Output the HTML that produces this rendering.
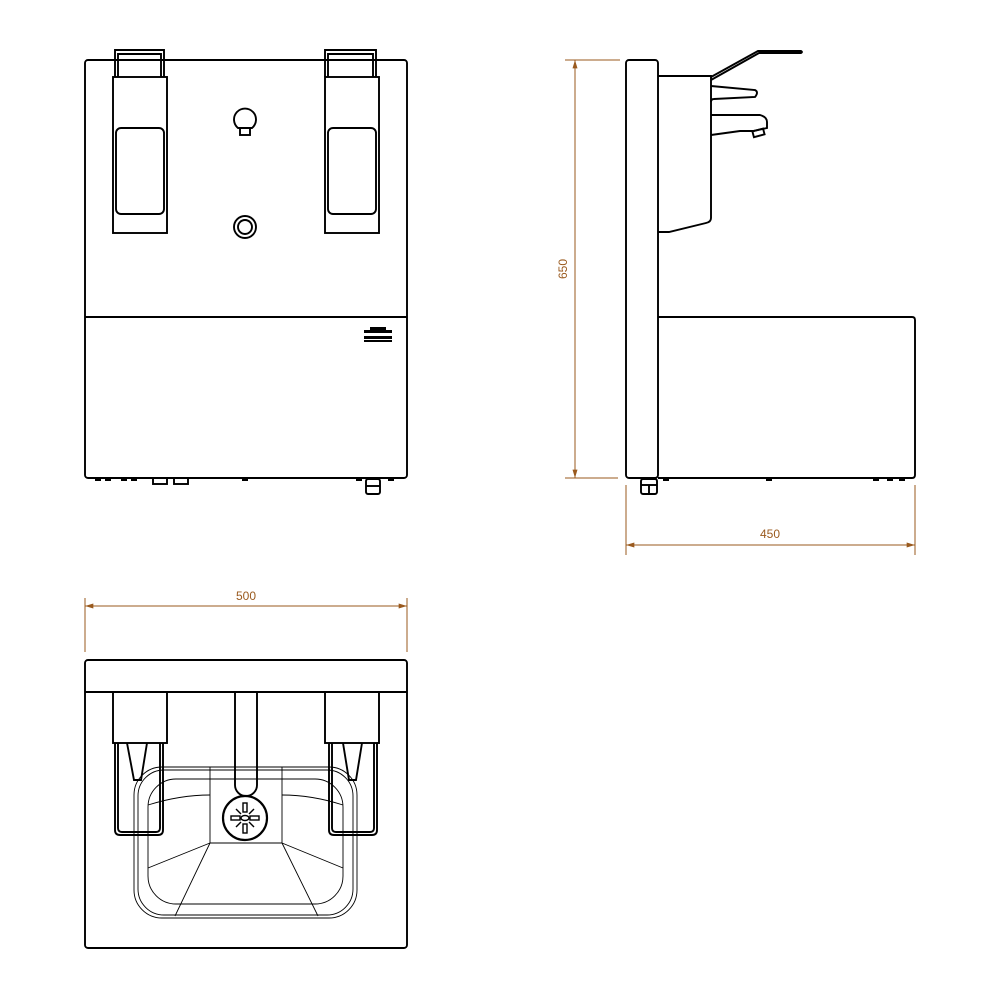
<!DOCTYPE html>
<html><head><style>html,body{margin:0;padding:0;background:#fff}svg{display:block}</style></head>
<body>
<svg width="1000" height="1000" viewBox="0 0 1000 1000" xmlns="http://www.w3.org/2000/svg" fill="none" stroke="#000" stroke-width="1.9">
<defs>
<marker id="a" viewBox="0 0 10 6" refX="10" refY="3" markerWidth="12" markerHeight="5" orient="auto-start-reverse" markerUnits="userSpaceOnUse"><path d="M0,0L10,3L0,6z" fill="#9a5a1e" stroke="none"/></marker>
</defs>
<!-- FRONT VIEW -->
<rect x="85" y="60" width="322" height="418" rx="3"/>
<line x1="85" y1="317" x2="407" y2="317"/>
<path d="M115,77 V50 H164 V77 M118,77 V54 H161 V77"/>
<rect x="113" y="77" width="54" height="156"/>
<rect x="116" y="128" width="48" height="86" rx="5"/>
<path d="M325,77 V50 H376 V77 M328,77 V54 H373 V77"/>
<rect x="325" y="77" width="54" height="156"/>
<rect x="328" y="128" width="48" height="86" rx="5"/>
<path d="M238,128 A11,11 0 1 1 252,128 Z"/>
<rect x="240" y="128" width="10" height="7"/>
<circle cx="245" cy="227" r="11"/><circle cx="245" cy="227" r="7"/>
<g fill="#000" stroke="none"><rect x="364" y="330" width="28" height="3"/><rect x="364" y="336" width="28" height="3"/><rect x="370" y="327" width="16" height="3"/><rect x="364" y="340" width="28" height="2"/></g>
<g fill="#000" stroke="none">
<rect x="95" y="478" width="6" height="3"/><rect x="105" y="478" width="6" height="3"/><rect x="121" y="478" width="6" height="3"/><rect x="131" y="478" width="6" height="3"/><rect x="242" y="478" width="6" height="3"/><rect x="356" y="478" width="6" height="3"/><rect x="388" y="478" width="6" height="3"/></g>
<rect x="153" y="478" width="14" height="6"/><rect x="174" y="478" width="14" height="6"/>
<rect x="366" y="479" width="14" height="15" rx="2"/><line x1="366" y1="486" x2="380" y2="486"/>
<!-- SIDE VIEW -->
<rect x="626" y="60" width="32" height="418" rx="3"/>
<path d="M658,317 H912 Q915,317 915,320 V475 Q915,478 912,478 H658"/>
<path d="M658,76 H711 V218 Q711,222 706,223 L669,232 H658"/>
<path d="M711,77 L758,51 H801 Q803,52 801,53 H759 L711,80"/>
<path d="M711,86 L755,90 Q759,92 755,97 L714,99 Q711,99 711,102"/>
<path d="M711,115 H760 Q767,117 767,122 V128 L753,131 H740 L711,135"/>
<rect x="753" y="130" width="11" height="6" transform="rotate(-15 758 133)"/>
<g fill="#000" stroke="none"><rect x="663" y="478" width="6" height="3"/><rect x="766" y="478" width="6" height="3"/><rect x="873" y="478" width="6" height="3"/><rect x="887" y="478" width="6" height="3"/><rect x="899" y="478" width="6" height="3"/></g>
<rect x="641" y="479" width="16" height="15" rx="2"/><line x1="641" y1="485" x2="657" y2="485"/><line x1="649" y1="485" x2="649" y2="494"/>
<!-- TOP VIEW -->
<rect x="85" y="660" width="322" height="288" rx="3"/>
<line x1="85" y1="692" x2="407" y2="692"/>
<rect x="113" y="692" width="54" height="51"/>
<rect x="325" y="692" width="54" height="51"/>
<path d="M235,692 V785 A11,11 0 0 0 257,785 V692"/>
<g stroke-width="0.9">
<rect x="134" y="767" width="223" height="151" rx="28"/>
<rect x="138" y="770" width="215" height="145" rx="26"/>
<rect x="148" y="779" width="195" height="125" rx="28"/>
<line x1="210" y1="767" x2="210" y2="843"/><line x1="282" y1="767" x2="282" y2="843"/>
<path d="M148,805 Q180,795 210,795 M282,795 Q312,795 343,805"/>
<line x1="210" y1="843" x2="282" y2="843"/>
<path d="M210,843 L148,868 M282,843 L343,868 M210,843 L175,916 M282,843 L318,916"/>
</g>
<path d="M115,743 V830 Q115,835 120,835 H158 Q163,835 163,830 V743 M118,743 V828 Q118,832 122,832 H156 Q160,832 160,828 V743"/>
<path d="M127,743 L134,780 H141 L147,743"/>
<path d="M329,743 V830 Q329,835 334,835 H372 Q377,835 377,830 V743 M332,743 V828 Q332,832 336,832 H370 Q374,832 374,828 V743"/>
<path d="M343,743 L349,780 H356 L362,743"/>
<circle cx="245" cy="818" r="22" stroke-width="2.2"/>
<g stroke-width="1.4"><rect x="243" y="803" width="4" height="9"/><rect x="243" y="824" width="4" height="9"/><rect x="231" y="816" width="9" height="4"/><rect x="250" y="816" width="9" height="4"/>
<line x1="236" y1="809" x2="241" y2="814"/><line x1="254" y1="809" x2="249" y2="814"/><line x1="236" y1="827" x2="241" y2="822"/><line x1="254" y1="827" x2="249" y2="822"/><ellipse cx="245" cy="818" rx="4" ry="2.5"/></g>
<!-- DIMENSIONS -->
<g stroke="#9a5a1e" stroke-width="1">
<line x1="565" y1="60" x2="620" y2="60"/><line x1="565" y1="478" x2="618" y2="478"/>
<line x1="575" y1="60" x2="575" y2="478" marker-start="url(#a)" marker-end="url(#a)"/>
<line x1="626" y1="485" x2="626" y2="555"/><line x1="915" y1="485" x2="915" y2="555"/>
<line x1="626" y1="545" x2="915" y2="545" marker-start="url(#a)" marker-end="url(#a)"/>
<line x1="85" y1="598" x2="85" y2="652"/><line x1="407" y1="598" x2="407" y2="652"/>
<line x1="85" y1="606" x2="407" y2="606" marker-start="url(#a)" marker-end="url(#a)"/>
</g>
<g fill="#9a5a1e" stroke="none" font-family="Liberation Sans, sans-serif" font-size="12" text-anchor="middle">
<text x="770" y="538">450</text>
<text x="246" y="600">500</text>
<text transform="translate(567,269) rotate(-90)">650</text>
</g>
</svg>
</body></html>
